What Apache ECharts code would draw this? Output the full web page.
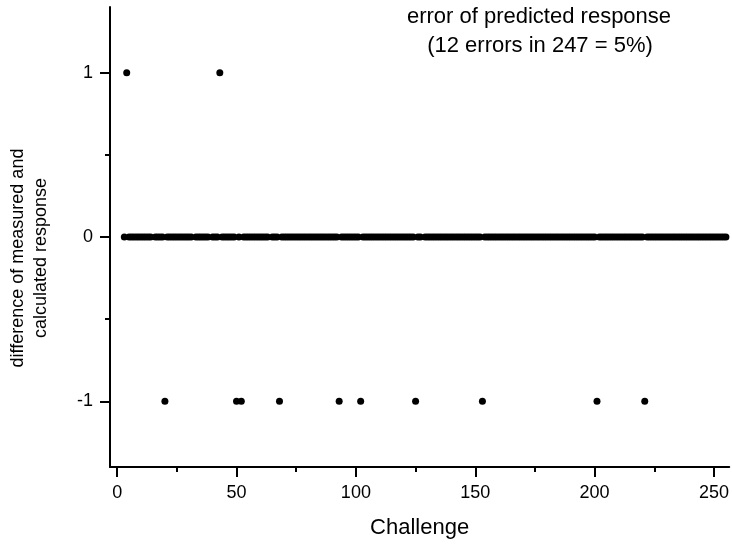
<!DOCTYPE html>
<html>
<head>
<meta charset="utf-8">
<script src="https://cdn.jsdelivr.net/npm/echarts@6/dist/echarts.min.js"></script>
<style>
  html, body { margin: 0; padding: 0; background: #fff; }
  #chart { width: 732px; height: 544px; }
</style>
</head>
<body>
<div id="chart"></div>
<script>
// challenge range and the results
const firstChallenge = 3;
const lastChallenge = 255;
const plusOneAt = [4, 43];
const minusOneAt = [20, 50, 52, 68, 93, 102, 125, 153, 201, 221];
const notTestedAt = [15, 32, 39, 64, 128];
const xTicks = [0, 50, 100, 150, 200, 250];
const xMinorTicks = [25, 75, 125, 175, 225];
const yTicks = [-1, 0, 1];
const yMinorTicks = [-0.5, 0.5];

const font = 'Liberation Sans, Arial, sans-serif';

const points = [];
for (let c = firstChallenge; c <= lastChallenge; c++) {
  if (notTestedAt.includes(c)) continue;
  let v = 0;
  if (plusOneAt.includes(c)) v = 1;
  if (minusOneAt.includes(c)) v = -1;
  points.push([c, v]);
}

// extra axes that only draw a set of ticks
function tickAxis(min, max, pos, values, len) {
  return {
    type: 'value', min: min, max: max, position: pos, offset: 0,
    axisLine: { show: false, onZero: false },
    axisTick: { show: true, inside: false, customValues: values, length: len, lineStyle: { color: '#000', width: 2 } },
    axisLabel: { show: false },
    splitLine: { show: false },
  };
}

const chart = echarts.init(document.getElementById('chart'));

const options = {
  animation: false,
  grid: { left: 110, right: 0, top: 7, bottom: 74 },
  graphic: [
    {
      type: 'text', x: 539, y: 17,
      style: { text: 'error of predicted response', font: '22px ' + font, fill: '#000', align: 'center', verticalAlign: 'middle' },
    },
    {
      type: 'text', x: 540, y: 46,
      style: { text: '(12 errors in 247 = 5%)', font: '22px ' + font, fill: '#000', align: 'center', verticalAlign: 'middle' },
    },
    {
      type: 'text', x: 30, y: 258, rotation: Math.PI / 2,
      style: {
        text: 'difference of measured and\ncalculated response',
        font: '18px ' + font, fill: '#000', align: 'center', verticalAlign: 'middle', lineHeight: 23,
      },
    },
  ],
  xAxis: [
    {
      type: 'value', min: -3, max: 256.4,
      name: 'Challenge', nameLocation: 'middle', nameGap: 50,
      nameTextStyle: { fontSize: 22, fontFamily: font, color: '#000' },
      axisLine: { show: true, onZero: false, lineStyle: { color: '#000', width: 2 } },
      axisTick: { show: false },
      axisLabel: { customValues: xTicks, margin: 17, fontSize: 18, fontFamily: font, color: '#000' },
      splitLine: { show: false },
    },
    tickAxis(-3, 256.4, 'bottom', xTicks, 10),
    tickAxis(-3, 256.4, 'bottom', xMinorTicks, 5),
  ],
  yAxis: [
    {
      type: 'value', min: -1.4, max: 1.4,
      axisLine: { show: true, onZero: false, lineStyle: { color: '#000', width: 2 } },
      axisTick: { show: false },
      axisLabel: { customValues: yTicks, margin: 17, fontSize: 18, fontFamily: font, color: '#000' },
      splitLine: { show: false },
    },
    tickAxis(-1.4, 1.4, 'left', yTicks, 10),
    tickAxis(-1.4, 1.4, 'left', yMinorTicks, 5),
  ],
  series: [
    {
      type: 'scatter',
      data: points,
      symbol: 'circle',
      symbolSize: 7,
      itemStyle: { color: '#000', opacity: 1 },
    },
  ],
};

chart.setOption(options);
</script>
</body>
</html>
